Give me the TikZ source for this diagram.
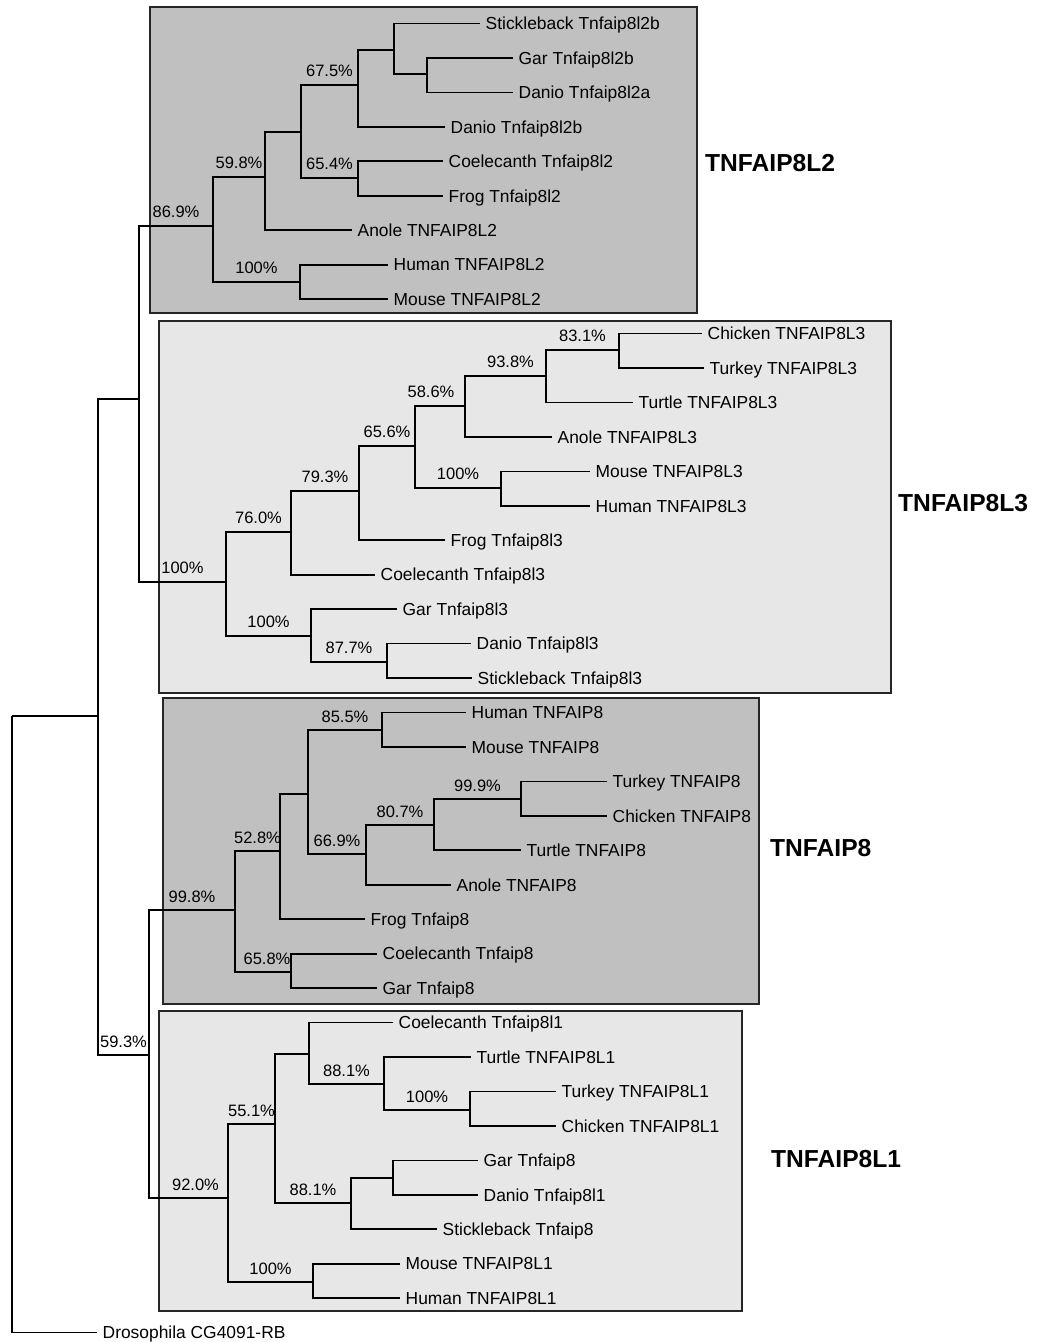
\documentclass[tikz,border=0pt]{standalone}
\usepackage{fontspec}
\setmainfont{Liberation Sans}
\usepackage{xcolor}
\usepackage{tikz}
\usetikzlibrary{positioning}

\definecolor{darkclade}{HTML}{C0C0C0}
\definecolor{lightclade}{HTML}{E7E7E7}

\begin{document}
\begin{tikzpicture}[x=1pt, y=-1pt,
    branch/.style={line width=1.7pt},
    cladebox/.style={line width=2pt, draw=black!85},
    leaf/.style={anchor=west, inner xsep=5.5pt, inner ysep=0pt, text height=12.5pt, text depth=0pt, font=\fontsize{17.4}{20}\selectfont},
    boot/.style={pos=0.75, inner sep=0pt, above=7pt, font=\fontsize{16.5}{19}\selectfont},
    cladename/.style={anchor=west, inner sep=0pt, font=\fontsize{24.6}{28}\selectfont\bfseries}]
        \useasboundingbox (0,0) rectangle (1049,1342);

        % Define the boxes
        \draw[cladebox, fill=darkclade] (149.5,7) rectangle (697,313);
        \draw[cladebox, fill=lightclade] (159,321) rectangle (891,693);
        \draw[cladebox, fill=darkclade] (163,698) rectangle (759,1004);
        \draw[cladebox, fill=lightclade] (159,1011) rectangle (742,1311);

        \node[cladename] (nameL2) at (705,163) {TNFAIP8L2};
        \node[cladename] (nameL3) at (898,503) {TNFAIP8L3};
        \node[cladename] (nameP8) at (770,848) {TNFAIP8};
        \node[cladename] (nameL1) at (771,1159) {TNFAIP8L1};

        % Define the nodes
        \node[leaf] (stickL2b) at (480,23.5) {Stickleback Tnfaip8l2b};
        \node[leaf] (garL2b) at (513,57.95) {Gar Tnfaip8l2b};
        \node[leaf] (danioL2a) at (513,92.4) {Danio Tnfaip8l2a};
        \node[leaf] (danioL2b) at (445,126.85) {Danio Tnfaip8l2b};
        \node[leaf] (coelL2) at (443,161.3) {Coelecanth Tnfaip8l2};
        \node[leaf] (frogL2) at (443,195.75) {Frog Tnfaip8l2};
        \node[leaf] (anoleL2) at (352,230.2) {Anole TNFAIP8L2};
        \node[leaf] (humanL2) at (388,264.65) {Human TNFAIP8L2};
        \node[leaf] (mouseL2) at (388,299.1) {Mouse TNFAIP8L2};

        \node[leaf] (chickenL3) at (702,333.55) {Chicken TNFAIP8L3};
        \node[leaf] (turkeyL3) at (704,368) {Turkey TNFAIP8L3};
        \node[leaf] (turtleL3) at (633,402.45) {Turtle TNFAIP8L3};
        \node[leaf] (anoleL3) at (552,436.9) {Anole TNFAIP8L3};
        \node[leaf] (mouseL3) at (590,471.35) {Mouse TNFAIP8L3};
        \node[leaf] (humanL3) at (590,505.8) {Human TNFAIP8L3};
        \node[leaf] (frogL3) at (445,540.25) {Frog Tnfaip8l3};
        \node[leaf] (coelL3) at (375,574.7) {Coelecanth Tnfaip8l3};
        \node[leaf] (garL3) at (397,609.15) {Gar Tnfaip8l3};
        \node[leaf] (danioL3) at (471,643.6) {Danio Tnfaip8l3};
        \node[leaf] (stickL3) at (472,678.05) {Stickleback Tnfaip8l3};

        \node[leaf] (humanP8) at (466,712.5) {Human TNFAIP8};
        \node[leaf] (mouseP8) at (466,746.95) {Mouse TNFAIP8};
        \node[leaf] (turkeyP8) at (607,781.4) {Turkey TNFAIP8};
        \node[leaf] (chickenP8) at (607,815.85) {Chicken TNFAIP8};
        \node[leaf] (turtleP8) at (521,850.3) {Turtle TNFAIP8};
        \node[leaf] (anoleP8) at (451,884.75) {Anole TNFAIP8};
        \node[leaf] (frogP8) at (365,919.2) {Frog Tnfaip8};
        \node[leaf] (coelP8) at (377,953.65) {Coelecanth Tnfaip8};
        \node[leaf] (garP8) at (377,988.1) {Gar Tnfaip8};

        \node[leaf] (coelL1) at (393,1022.55) {Coelecanth Tnfaip8l1};
        \node[leaf] (turtleL1) at (471,1057) {Turtle TNFAIP8L1};
        \node[leaf] (turkeyL1) at (556,1091.45) {Turkey TNFAIP8L1};
        \node[leaf] (chickenL1) at (556,1125.9) {Chicken TNFAIP8L1};
        \node[leaf] (garL1) at (478,1160.35) {Gar Tnfaip8};
        \node[leaf] (danioL1) at (478,1194.8) {Danio Tnfaip8l1};
        \node[leaf] (stickL1) at (437,1229.25) {Stickleback Tnfaip8};
        \node[leaf] (mouseL1) at (400,1263.7) {Mouse TNFAIP8L1};
        \node[leaf] (humanL1) at (400,1298.15) {Human TNFAIP8L1};

        \node[leaf] (dros) at (97,1332.6) {Drosophila CG4091-RB};

        % Define the internal nodes
        \coordinate (n2g) at (427,74);
        \coordinate (n2f) at (394,50);
        \coordinate (n2e) at (358,85);
        \coordinate (n2d) at (358,178);
        \coordinate (n2c) at (301,132);
        \coordinate (n2b) at (265,177);
        \coordinate (n2h) at (300,282);
        \coordinate (n2a) at (213,226);

        \coordinate (n3a) at (619,350);
        \coordinate (n3b) at (546,376);
        \coordinate (n3c) at (465,406);
        \coordinate (n3d) at (501,488);
        \coordinate (n3e) at (415,446);
        \coordinate (n3f) at (359,491);
        \coordinate (n3g) at (291,532);
        \coordinate (n3h) at (387,662);
        \coordinate (n3i) at (311,636);
        \coordinate (n3j) at (226,582);

        \coordinate (n8a) at (382,730);
        \coordinate (n8b) at (521,799);
        \coordinate (n8c) at (434,825);
        \coordinate (n8d) at (366,854);
        \coordinate (n8e) at (308,794);
        \coordinate (n8f) at (280,851);
        \coordinate (n8g) at (291,972);
        \coordinate (n8h) at (235,910);

        \coordinate (n1a) at (470,1110);
        \coordinate (n1b) at (384,1084);
        \coordinate (n1c) at (309,1054);
        \coordinate (n1d) at (393,1178);
        \coordinate (n1e) at (351,1203);
        \coordinate (n1f) at (275,1124);
        \coordinate (n1g) at (313,1282);
        \coordinate (n1h) at (228,1198);

        \coordinate (n23) at (139,399);
        \coordinate (n81) at (149,1055);
        \coordinate (nall) at (98,716);
        \coordinate (root) at (12,716);

        % Define the edges
        \draw[branch] (n2g) |- (garL2b);
        \draw[branch] (n2g) |- (danioL2a);
        \draw[branch] (n2f) |- (stickL2b);
        \draw[branch] (n2f) |- (n2g);
        \draw[branch] (n2e) |- (n2f);
        \draw[branch] (n2e) |- (danioL2b);
        \draw[branch] (n2d) |- (coelL2);
        \draw[branch] (n2d) |- (frogL2);
        \draw[branch] (n2c) |- node[boot] {67.5\%} (n2e);
        \draw[branch] (n2c) |- node[boot] {65.4\%} (n2d);
        \draw[branch] (n2b) |- (n2c);
        \draw[branch] (n2b) |- (anoleL2);
        \draw[branch] (n2h) |- (humanL2);
        \draw[branch] (n2h) |- (mouseL2);
        \draw[branch] (n2a) |- node[boot] {59.8\%} (n2b);
        \draw[branch] (n2a) |- node[boot] {100\%} (n2h);

        \draw[branch] (n3a) |- (chickenL3);
        \draw[branch] (n3a) |- (turkeyL3);
        \draw[branch] (n3b) |- node[boot] {83.1\%} (n3a);
        \draw[branch] (n3b) |- (turtleL3);
        \draw[branch] (n3c) |- node[boot, xshift=5pt] {93.8\%} (n3b);
        \draw[branch] (n3c) |- (anoleL3);
        \draw[branch] (n3d) |- (mouseL3);
        \draw[branch] (n3d) |- (humanL3);
        \draw[branch] (n3e) |- node[boot, xshift=-9pt] {58.6\%} (n3c);
        \draw[branch] (n3e) |- node[boot] {100\%} (n3d);
        \draw[branch] (n3f) |- node[boot] {65.6\%} (n3e);
        \draw[branch] (n3f) |- (frogL3);
        \draw[branch] (n3g) |- node[boot] {79.3\%} (n3f);
        \draw[branch] (n3g) |- (coelL3);
        \draw[branch] (n3h) |- (danioL3);
        \draw[branch] (n3h) |- (stickL3);
        \draw[branch] (n3i) |- (garL3);
        \draw[branch] (n3i) |- node[boot] {87.7\%} (n3h);
        \draw[branch] (n3j) |- node[boot] {76.0\%} (n3g);
        \draw[branch] (n3j) |- node[boot] {100\%} (n3i);

        \draw[branch] (n8a) |- (humanP8);
        \draw[branch] (n8a) |- (mouseP8);
        \draw[branch] (n8b) |- (turkeyP8);
        \draw[branch] (n8b) |- (chickenP8);
        \draw[branch] (n8c) |- node[boot] {99.9\%} (n8b);
        \draw[branch] (n8c) |- (turtleP8);
        \draw[branch] (n8d) |- node[boot] {80.7\%} (n8c);
        \draw[branch] (n8d) |- (anoleP8);
        \draw[branch] (n8e) |- node[boot] {85.5\%} (n8a);
        \draw[branch] (n8e) |- node[boot] {66.9\%} (n8d);
        \draw[branch] (n8f) |- (n8e);
        \draw[branch] (n8f) |- (frogP8);
        \draw[branch] (n8g) |- (coelP8);
        \draw[branch] (n8g) |- (garP8);
        \draw[branch] (n8h) |- node[boot] {52.8\%} (n8f);
        \draw[branch] (n8h) |- node[boot, xshift=4pt] {65.8\%} (n8g);

        \draw[branch] (n1a) |- (turkeyL1);
        \draw[branch] (n1a) |- (chickenL1);
        \draw[branch] (n1b) |- (turtleL1);
        \draw[branch] (n1b) |- node[boot] {100\%} (n1a);
        \draw[branch] (n1c) |- (coelL1);
        \draw[branch] (n1c) |- node[boot] {88.1\%} (n1b);
        \draw[branch] (n1d) |- (garL1);
        \draw[branch] (n1d) |- (danioL1);
        \draw[branch] (n1e) |- (n1d);
        \draw[branch] (n1e) |- (stickL1);
        \draw[branch] (n1f) |- (n1c);
        \draw[branch] (n1f) |- node[boot] {88.1\%} (n1e);
        \draw[branch] (n1g) |- (mouseL1);
        \draw[branch] (n1g) |- (humanL1);
        \draw[branch] (n1h) |- node[boot] {55.1\%} (n1f);
        \draw[branch] (n1h) |- node[boot] {100\%} (n1g);

        \draw[branch] (n23) |- node[boot] {86.9\%} (n2a);
        \draw[branch] (n23) |- node[boot] {100\%} (n3j);
        \draw[branch] (n81) |- node[boot] {99.8\%} (n8h);
        \draw[branch] (n81) |- node[boot, xshift=7pt] {92.0\%} (n1h);
        \draw[branch] (nall) |- (n23);
        \draw[branch] (nall) |- node[boot] {59.3\%} (n81);
        \draw[branch] (root) |- (nall);
        \draw[branch] (root) |- (dros);
\end{tikzpicture}
\end{document}
